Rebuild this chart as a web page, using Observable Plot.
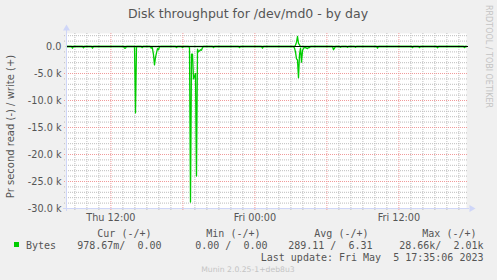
<!DOCTYPE html>
<html><head><meta charset="utf-8">
<script src="https://cdn.jsdelivr.net/npm/d3@7"></script>
<script src="https://cdn.jsdelivr.net/npm/@observablehq/plot@0.6"></script>
<style>
html,body{margin:0;padding:0;background:#F0F0F0;}
#wrap{position:relative;width:497px;height:280px;overflow:hidden;background:#F0F0F0;}
#wrap svg{position:absolute;left:0;top:0;}
</style></head><body><div id="wrap"></div>
<script>
// time in hours since Thu 00:00
const readHours = [8.3,
 8.717,8.8,8.883, 9.633,9.717,9.8, 10.383,10.467,10.55,
 13.05,13.133,13.217,13.3, 13.967,14.05,14.133, 14.525,14.608,14.692,
 15.275,15.358,15.442,15.55,15.633,15.717,15.8,15.883,15.967,16.05,16.133,
 17.383,17.467,17.55, 17.883,17.967,18.05,
 18.467,18.55,18.633,18.717,18.8,18.883,18.967,19.05,19.133,19.217,19.3,19.383,19.467,19.55,19.633,19.717,
 20.467,20.55,20.633, 22.633,22.717,22.8, 24.55,24.633,24.717,
 27.217,27.3,27.383,27.467,27.55,27.633,27.717,27.8,27.883,27.967,28.05,28.133,28.217,28.3,28.383,28.467,28.55,28.633,
 30.467,30.55,30.633,30.717, 31.05,31.133,31.217, 31.633,31.717,31.8, 32.3,32.383,32.467,
 34.133,34.217,34.3, 37.05,37.133,37.217, 37.633,37.717,37.8, 39.133,39.217,39.3,
 41.383,41.467,41.55,41.633];
const readValues = [0,
 0,-300,0, 0,-250,0, 0,-300,0,
 0,-300,-300,0, 0,-12300,0, 0,-200,0,
 0,-300,-100,-1500,-3400,-2000,-1200,-400,-600,-100,0,
 0,-200,0, 0,-200,0,
 0,-200,-28800,-1400,-1400,-6000,-5500,-5000,-24000,-500,-1000,-800,-600,-700,-200,0,
 0,-200,0, 0,-200,0, 0,-300,0,
 0,-300,-1000,-2300,-2500,-5800,-1500,-300,-2900,-800,-300,-200,-200,-300,-400,-200,-200,0,
 0,-600,-300,0, 0,-150,0, 0,-150,0, 0,-150,0,
 0,-300,0, 0,-200,0, 0,-200,0, 0,-250,0,
 0,-200,0,-1];
const writeHours = [8.3, 27.3,27.383,27.467,27.55,27.633,27.717,27.8, 41.633];
const writeValues = [0, 0,250,800,1850,600,300,0, 0];

const xTickHours = [12, 24, 36];
const xTickLabels = ["Thu 12:00", "Fri 00:00", "Fri 12:00"];
const yTickValues = [0, -5000, -10000, -15000, -20000, -25000, -30000];
const yTickLabels = ["0.0", "-5.0 k", "-10.0 k", "-15.0 k", "-20.0 k", "-25.0 k", "-30.0 k"];

const titleText = "Disk throughput for /dev/md0 - by day";
const yLabelText = "Pr second read (-) / write (+)";
const seriesName = "Bytes";
const legendHeaders = ["Cur (-/+)", "Min (-/+)", "Avg (-/+)", "Max (-/+)"];
const legendValues = ["978.67m/  0.00", "0.00 /  0.00", "289.11 /  6.31", "28.66k/  2.01k"];
const lastUpdate = "Last update: Fri May  5 17:35:06 2023";
const versionText = "Munin 2.0.25-1+deb8u3";
const sideText = "RRDTOOL / TOBI OETIKER";

const read = readHours.map((h, i) => ({h, v: readValues[i]}));
const write = writeHours.map((h, i) => ({h, v: writeValues[i]}));

const xDomain = [8.3, 41.633];
const yDomain = [-30000, 2407];
const minorX = d3.range(9, 42).filter(h => h % 6 !== 0);
const majorX = d3.range(12, 42, 6);
const minorY = d3.range(-29000, 2500, 1000).filter(v => v % 5000 !== 0);
const majorY = d3.range(-30000, 1, 5000).filter(v => v !== 0 && v !== -30000);

const GREEN = "#00CC00";
const MINOR = "#bdbdbd";
const MAJOR = "#f09a9a";
const AXIS = "#CFD6F8";

const plot = Plot.plot({
  width: 497, height: 280,
  marginLeft: 66, marginRight: 31, marginTop: 33, marginBottom: 72,
  style: {background: "transparent", fontFamily: "DejaVu Sans", fontSize: "9.7px", color: "#555", overflow: "visible"},
  x: {domain: xDomain},
  y: {domain: yDomain},
  marks: [
    Plot.frame({fill: "white", stroke: null}),
    Plot.ruleX(minorX, {stroke: MINOR, strokeDasharray: "1,1", insetBottom: -2}),
    Plot.ruleY(minorY, {stroke: MINOR, strokeDasharray: "1,1", insetLeft: -2, insetRight: -2}),
    Plot.ruleX(majorX, {stroke: MAJOR, strokeDasharray: "1,1", insetBottom: -2}),
    Plot.ruleY(majorY, {stroke: MAJOR, strokeDasharray: "1,1", insetLeft: -2, insetRight: -2}),
    Plot.line(read, {x: "h", y: "v", stroke: GREEN, strokeWidth: 1.3}),
    Plot.line(write, {x: "h", y: "v", stroke: GREEN, strokeWidth: 1.3}),
    Plot.ruleY([0], {stroke: "#000", strokeWidth: 1.2, insetRight: -2}),
    Plot.ruleX([xDomain[0]], {stroke: AXIS, insetTop: -3, insetBottom: -3}),
    Plot.ruleY([yDomain[0]], {stroke: AXIS, insetLeft: -3, insetRight: -3}),
    Plot.dot([0], {frameAnchor: "top-left", symbol: "triangle", r: 2.6, fill: AXIS, stroke: null, dy: -5}),
    Plot.dot([0], {frameAnchor: "bottom-right", symbol: "triangle", r: 2.6, fill: AXIS, stroke: null, rotate: 90, dx: 5}),
    Plot.axisX({ticks: xTickHours, tickFormat: d => xTickLabels[xTickHours.indexOf(d)], tickSize: 0, tickPadding: 6, label: null}),
    Plot.axisY({ticks: yTickValues, tickFormat: d => yTickLabels[yTickValues.indexOf(d)], tickSize: 0, tickPadding: 5, label: null})
  ]
});
const wrap = document.getElementById("wrap");
wrap.appendChild(plot);

const nb = t => t.replace(/ /g, "\u00a0");
const svg = d3.select(wrap).append("svg").attr("width", 497).attr("height", 280)
  .style("font-family", "DejaVu Sans").style("fill", "#555");
svg.append("text").attr("x", 248).attr("y", 17.5).attr("text-anchor", "middle")
  .style("font-size", "12.5px").text(titleText);
svg.append("text").attr("transform", "translate(13.5,126.5) rotate(-90)").attr("text-anchor", "middle")
  .style("font-size", "10px").text(yLabelText);
svg.append("text").attr("transform", "translate(486,5) rotate(90)").attr("text-anchor", "start")
  .style("font-size", "8px").style("fill", "#c4c4c4").text(sideText);

const mono = svg.append("g").style("font-family", "DejaVu Sans Mono").style("font-size", "10px");
const headerEnds = [151.5, 260.5, 368.5, 476.5];
const valueEnds = [161.5, 267.5, 372.5, 483.5];
legendHeaders.forEach((t, i) => mono.append("text").attr("x", headerEnds[i]).attr("y", 236.5).attr("text-anchor", "end").text(nb(t)));
legendValues.forEach((t, i) => mono.append("text").attr("x", valueEnds[i]).attr("y", 248.5).attr("text-anchor", "end").text(nb(t)));
mono.append("text").attr("x", 26).attr("y", 248.5).text(seriesName);
mono.append("text").attr("x", 483.5).attr("y", 260.5).attr("text-anchor", "end").text(nb(lastUpdate));
svg.append("rect").attr("x", 14).attr("y", 242).attr("width", 5).attr("height", 5).style("fill", GREEN);
svg.append("text").attr("x", 248).attr("y", 272).attr("text-anchor", "middle")
  .style("font-size", "7.7px").style("fill", "#c4c4c4").text(versionText);
</script></body></html>
